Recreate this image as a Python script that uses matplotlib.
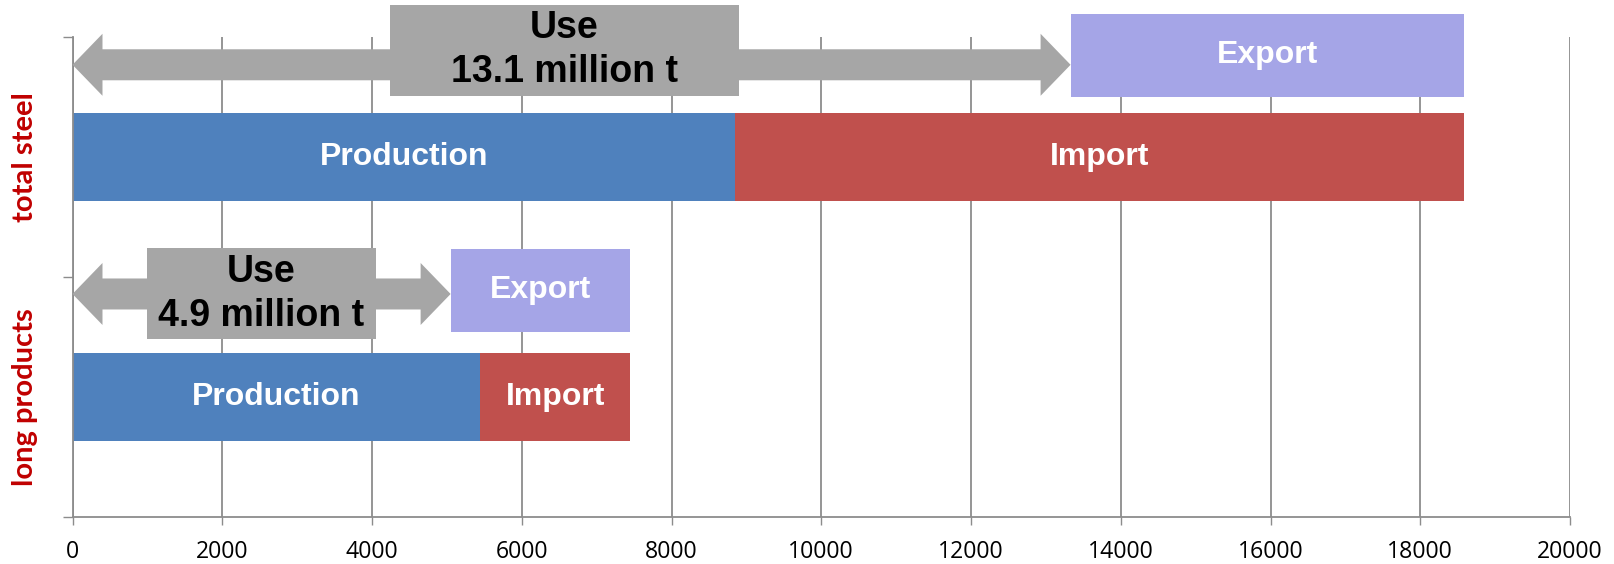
import matplotlib.pyplot as plt
from matplotlib.patches import Polygon, Rectangle

# data (thousand t)
categories = ["long products", "total steel"]
production = [5445, 8845]
imports = [2000, 9735]
use = [5050, 13330]
use_labels = ["Use\n4.9 million t", "Use\n13.1 million t"]
x_ticks = list(range(0, 20001, 2000))

# layout helpers (px -> data)
PX_X = 0.0749      # px per unit on x
PX_Y = 240.0       # px per unit on y
box_width_px = [229, 350]
box_shift_px = [0, -7]
arrow_dy = [0.428, 0.383]
box_dy = [0.428, 0.443]
export_dy = [0.444, 0.422]

c_prod = "#4F81BD"
c_imp = "#C0504D"
c_exp = "#A5A5E7"
c_grey = "#A6A6A6"
c_grid = "#8C8C8C"

plt.rcParams["font.family"] = ["Liberation Sans", "DejaVu Sans"]

fig = plt.figure(figsize=(16.14, 5.64), dpi=100)
ax = fig.add_axes([72.5 / 1614, 47.3 / 564, (1570 - 72.5) / 1614, 480 / 564])

ax.set_xlim(0, 20000)
ax.set_ylim(0, 2)

for sp in ("top", "right"):
    ax.spines[sp].set_visible(False)
for sp in ("left", "bottom"):
    ax.spines[sp].set_color(c_grid)
    ax.spines[sp].set_linewidth(1.3)

ax.set_xticks(x_ticks)
ax.set_xticklabels([str(t) for t in x_ticks], fontfamily="Open Sans", fontsize=16.6)
ax.xaxis.grid(True, color=c_grid, linewidth=1.3)
ax.set_axisbelow(True)
ax.tick_params(axis="x", length=6, width=1, color=c_grid, pad=11)

ax.set_yticks([0, 1, 2])
ax.set_yticklabels([])
ax.set_yticks([0.5, 1.5], minor=True)
ax.set_yticklabels(categories, minor=True, rotation=90, va="center",
                   fontfamily="Lato", fontweight="bold", fontsize=21, color="#C00000")
ax.tick_params(axis="y", which="major", length=7, width=1, color=c_grid)
ax.tick_params(axis="y", which="minor", length=0, pad=25)

bar_h = 0.367
export_h = 0.345
for i, cat in enumerate(categories):
    yc = i + 0.5
    total = production[i] + imports[i]
    ax.barh(yc, production[i], height=bar_h, color=c_prod, zorder=2)
    ax.barh(yc, imports[i], left=production[i], height=bar_h, color=c_imp, zorder=2)
    ax.text(production[i] / 2, yc, "Production", color="white", fontsize=23,
            fontweight="bold", ha="center", va="center", zorder=5)
    ax.text(production[i] + imports[i] / 2, yc, "Import", color="white", fontsize=23,
            fontweight="bold", ha="center", va="center", zorder=5)

    ye = yc + export_dy[i]
    ax.barh(ye, total - use[i], left=use[i], height=export_h, color=c_exp,
            zorder=2, clip_on=False)
    ax.text((use[i] + total) / 2, ye, "Export", color="white", fontsize=23,
            fontweight="bold", ha="center", va="center", zorder=5, clip_on=False)

    # double arrow spanning use
    ya = yc + arrow_dy[i]
    hl = 30 / PX_X
    hw = 31 / PX_Y
    sw = 15.5 / PX_Y
    x1 = use[i]
    pts = [(0, ya), (hl, ya + hw), (hl, ya + sw), (x1 - hl, ya + sw),
           (x1 - hl, ya + hw), (x1, ya), (x1 - hl, ya - hw), (x1 - hl, ya - sw),
           (hl, ya - sw), (hl, ya - hw)]
    ax.add_patch(Polygon(pts, closed=True, facecolor=c_grey, edgecolor="none",
                         zorder=3, clip_on=False))

    # label box
    yb = yc + box_dy[i]
    bw = box_width_px[i] / PX_X
    bh = 91 / PX_Y
    bx = use[i] / 2 + box_shift_px[i] / PX_X
    ax.add_patch(Rectangle((bx - bw / 2, yb - bh / 2), bw, bh, facecolor=c_grey,
                           edgecolor="none", zorder=4, clip_on=False))
    ax.text(bx, yb, use_labels[i], color="black", fontsize=27, fontweight="bold",
            ha="center", va="center", linespacing=1.28, zorder=5, clip_on=False)

fig.savefig("out.png", dpi=100)
